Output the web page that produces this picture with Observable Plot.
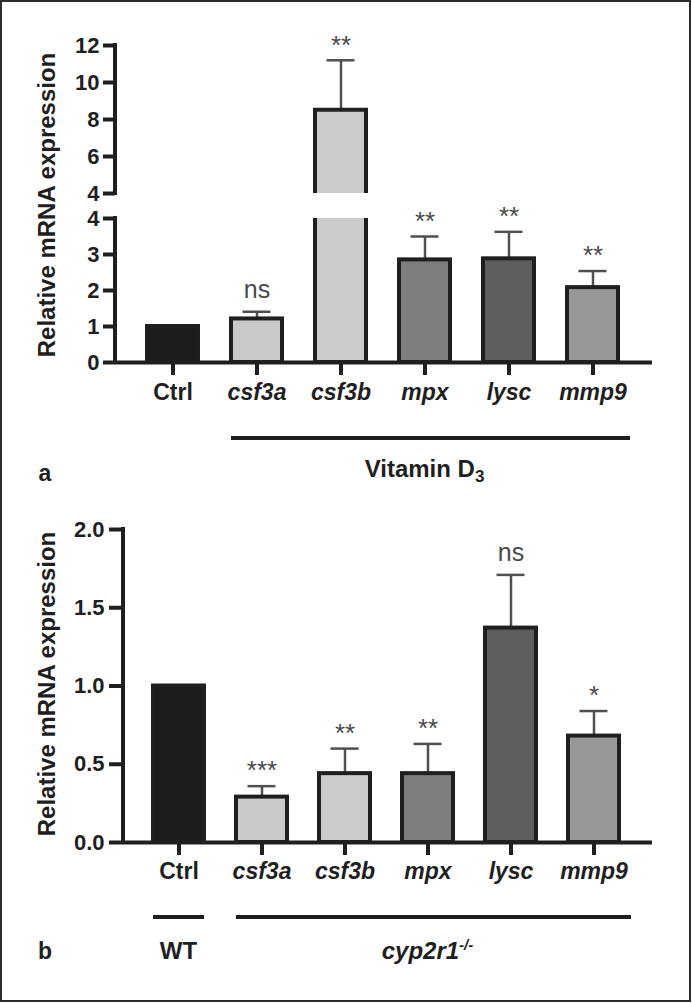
<!DOCTYPE html>
<html>
<head>
<meta charset="utf-8">
<script src="https://cdn.jsdelivr.net/npm/d3@7"></script>
<script src="https://cdn.jsdelivr.net/npm/@observablehq/plot@0.6"></script>
<style>
  body { margin: 0; background: #fff; }
  #fig { position: relative; width: 692px; height: 1003px; overflow: hidden; background: #fff;
         font-family: "Liberation Sans", Arial, Helvetica, sans-serif; }
  #fig svg { position: absolute; left: 0; }
  .frame { position: absolute; left: 0; top: 0; width: 691px; height: 1002px; box-sizing: border-box;
           border: 2px solid #2c2c2c; pointer-events: none; }
  .ytitle { position: absolute; transform: translate(-50%, -50%) rotate(-90deg); white-space: nowrap;
            font-weight: bold; font-size: 24px; color: #1f1f1f; }
  .panel { position: absolute; transform: translate(-50%, -50%); font-weight: bold; font-size: 23px; color: #1f1f1f; }
</style>
</head>
<body>
<div id="fig">
  <div class="ytitle" style="left:47px; top:205px;">Relative mRNA expression</div>
  <div class="ytitle" style="left:47px; top:684px;">Relative mRNA expression</div>
  <div class="panel" style="left:45px; top:473px;">a</div>
  <div class="panel" style="left:45px; top:951px;">b</div>
  <div class="frame"></div>
</div>
<script>
// ---------- data ----------
const categories = ["Ctrl", "csf3a", "csf3b", "mpx", "lysc", "mmp9"];
const controlLabel = "Ctrl";

// panel a : Vitamin D3 treatment
const meanA = [1.0, 1.21, 8.5, 2.85, 2.88, 2.08];
const errA  = [null, 1.41, 11.2, 3.5, 3.63, 2.54];
const sigA  = ["", "ns", "**", "**", "**", "**"];
const ticksATop = [4, 6, 8, 10, 12];
const ticksABottom = [0, 1, 2, 3, 4];
const groupsA = [{label: "Vitamin D", sub: "3", sup: "", from: "csf3a", to: "mmp9", italic: false}];

// panel b : cyp2r1 mutants
const meanB = [1.0, 0.29, 0.44, 0.44, 1.37, 0.68];
const errB  = [null, 0.36, 0.60, 0.63, 1.71, 0.84];
const sigB  = ["", "***", "**", "**", "ns", "*"];
const ticksB = [0, 0.5, 1.0, 1.5, 2.0];
const groupsB = [
  {label: "WT", sub: "", sup: "", from: "Ctrl", to: "Ctrl", italic: false},
  {label: "cyp2r1", sub: "", sup: "-/-", from: "csf3a", to: "mmp9", italic: true}
];

// ---------- styles ----------
const barFills = ["#1c1c1c", "#c9c9c9", "#cbcbcb", "#7e7e80", "#5e5e60", "#98989a"];
const INK = "#1f1f1f";
const ERR = "#505050";
const SIG = "#4a4a4a";
const FONT = "Liberation Sans, Arial, Helvetica, sans-serif";

const rowsA = categories.map((c, i) => ({cat: c, mean: meanA[i], err: errA[i], sig: sigA[i]}));
const rowsB = categories.map((c, i) => ({cat: c, mean: meanB[i], err: errB[i], sig: sigB[i]}));

function barMarks(rows, keepSig) {
  const withErr = rows.filter(d => d.err != null);
  const sigRows = rows.filter(d => d.sig && keepSig(d));
  return [
    Plot.ruleX(withErr, {x: "cat", y1: "mean", y2: "err", stroke: ERR, strokeWidth: 2.5, clip: true}),
    Plot.tickY(withErr, {x: "cat", y: "err", stroke: ERR, strokeWidth: 2.5, insetLeft: 11.5, insetRight: 11.5, clip: true}),
    Plot.barY(rows, {x: "cat", y: "mean", fill: "cat", stroke: INK, strokeWidth: 4, clip: true}),
    Plot.text(sigRows.filter(d => d.sig.includes("*")), {x: "cat", y: "err", text: "sig", dy: -15, fontSize: 26, fill: SIG, fontFamily: FONT}),
    Plot.text(sigRows.filter(d => !d.sig.includes("*")), {x: "cat", y: "err", text: "sig", dy: -22, fontSize: 25, fill: SIG, fontFamily: FONT})
  ];
}

function xLabelMarks(dy) {
  return [
    Plot.axisX({tickSize: 13, stroke: INK, strokeWidth: 4, fill: "none", label: null}),
    Plot.text(categories.filter(c => c === controlLabel), {x: d => d, frameAnchor: "bottom", dy, fontSize: 23, fontWeight: "bold", fill: INK, fontFamily: FONT}),
    Plot.text(categories.filter(c => c !== controlLabel), {x: d => d, frameAnchor: "bottom", dy, fontSize: 23, fontWeight: "bold", fontStyle: "italic", fill: INK, fontFamily: FONT})
  ];
}

function yAxisLine(plot, yTop, yBottom) {
  const sx = plot.scale("x"), sy = plot.scale("y");
  d3.select(plot).append("line")
    .attr("x1", sx.range[0]).attr("x2", sx.range[0])
    .attr("y1", sy.apply(yTop)).attr("y2", sy.apply(yBottom))
    .attr("stroke", INK).attr("stroke-width", 4).attr("stroke-linecap", "square");
}

function addGroups(plot, groups, lineOffset, textOffset, extend) {
  const sx = plot.scale("x"), sy = plot.scale("y");
  const y0 = sy.apply(0);
  const svg = d3.select(plot);
  for (const g of groups) {
    const x1 = sx.apply(g.from), x2 = sx.apply(g.to) + sx.bandwidth;
    svg.append("line")
      .attr("x1", x1).attr("x2", x2 + (g.from !== g.to ? extend : 0))
      .attr("y1", y0 + lineOffset).attr("y2", y0 + lineOffset)
      .attr("stroke", INK).attr("stroke-width", 4);
    const t = svg.append("text")
      .attr("x", (x1 + x2) / 2).attr("y", y0 + textOffset)
      .attr("text-anchor", "middle").attr("font-family", FONT).attr("font-weight", "bold")
      .attr("font-size", 24).attr("fill", INK).attr("font-style", g.italic ? "italic" : "normal");
    t.append("tspan").text(g.label);
    if (g.sub) t.append("tspan").attr("dy", "0.3em").attr("font-size", 17).text(g.sub);
    if (g.sup) t.append("tspan").attr("dy", "-0.6em").attr("font-size", 15).text(g.sup);
  }
}

const xA = {type: "band", domain: categories, paddingInner: 0.395, paddingOuter: 0.38, align: 0.48, axis: null};
const colorOpt = {type: "ordinal", domain: categories, range: barFills};
const baseStyle = {fontFamily: FONT, background: "transparent", overflow: "visible"};
const fig = document.getElementById("fig");

// ---------- panel a, upper segment ----------
const aTop = Plot.plot({
  width: 692, height: 205, marginTop: 45, marginBottom: 12, marginLeft: 115, marginRight: 40,
  style: baseStyle,
  x: xA,
  y: {domain: [4, 12], label: null},
  color: colorOpt,
  marks: [
    Plot.axisY({ticks: ticksATop, tickFormat: d3.format("d"), tickSize: 12, tickPadding: 4, fontSize: 22, fontWeight: "bold",
                stroke: INK, fill: INK, strokeWidth: 4, label: null}),
    ...barMarks(rowsA, d => d.err > 4)
  ]
});
aTop.style.top = "0px";
yAxisLine(aTop, 12, 4);
fig.insertBefore(aTop, fig.querySelector(".frame"));

// ---------- panel a, lower segment ----------
const aBottom = Plot.plot({
  width: 692, height: 295, marginTop: 13, marginBottom: 138, marginLeft: 115, marginRight: 40,
  style: baseStyle,
  x: {...xA, axis: undefined},
  y: {domain: [0, 4], label: null},
  color: colorOpt,
  marks: [
    Plot.axisY({ticks: ticksABottom, tickFormat: d3.format("d"), tickSize: 12, tickPadding: 4, fontSize: 22, fontWeight: "bold",
                stroke: INK, fill: INK, strokeWidth: 4, label: null}),
    ...barMarks(rowsA, d => d.err <= 4),
    ...xLabelMarks(37),
    Plot.ruleY([0], {stroke: INK, strokeWidth: 4})
  ]
});
aBottom.style.top = "205px";
yAxisLine(aBottom, 4, 0);
addGroups(aBottom, groupsA, 76, 115, 12);
fig.insertBefore(aBottom, fig.querySelector(".frame"));

// ---------- panel b ----------
const b = Plot.plot({
  width: 692, height: 500, marginTop: 29, marginBottom: 158, marginLeft: 123, marginRight: 40,
  style: baseStyle,
  x: {type: "band", domain: categories, paddingInner: 0.387, paddingOuter: 0.37, align: 0.48},
  y: {domain: [0, 2], label: null},
  color: colorOpt,
  marks: [
    Plot.axisY({ticks: ticksB, tickFormat: d3.format(".1f"), tickSize: 14, tickPadding: 5, fontSize: 22,
                fontWeight: "bold", stroke: INK, fill: INK, strokeWidth: 4, label: null}),
    ...barMarks(rowsB, () => true),
    ...xLabelMarks(36),
    Plot.ruleY([0], {stroke: INK, strokeWidth: 4})
  ]
});
b.style.top = "500px";
yAxisLine(b, 2, 0);
addGroups(b, groupsB, 75, 117, 12);
fig.insertBefore(b, fig.querySelector(".frame"));
</script>
</body>
</html>
